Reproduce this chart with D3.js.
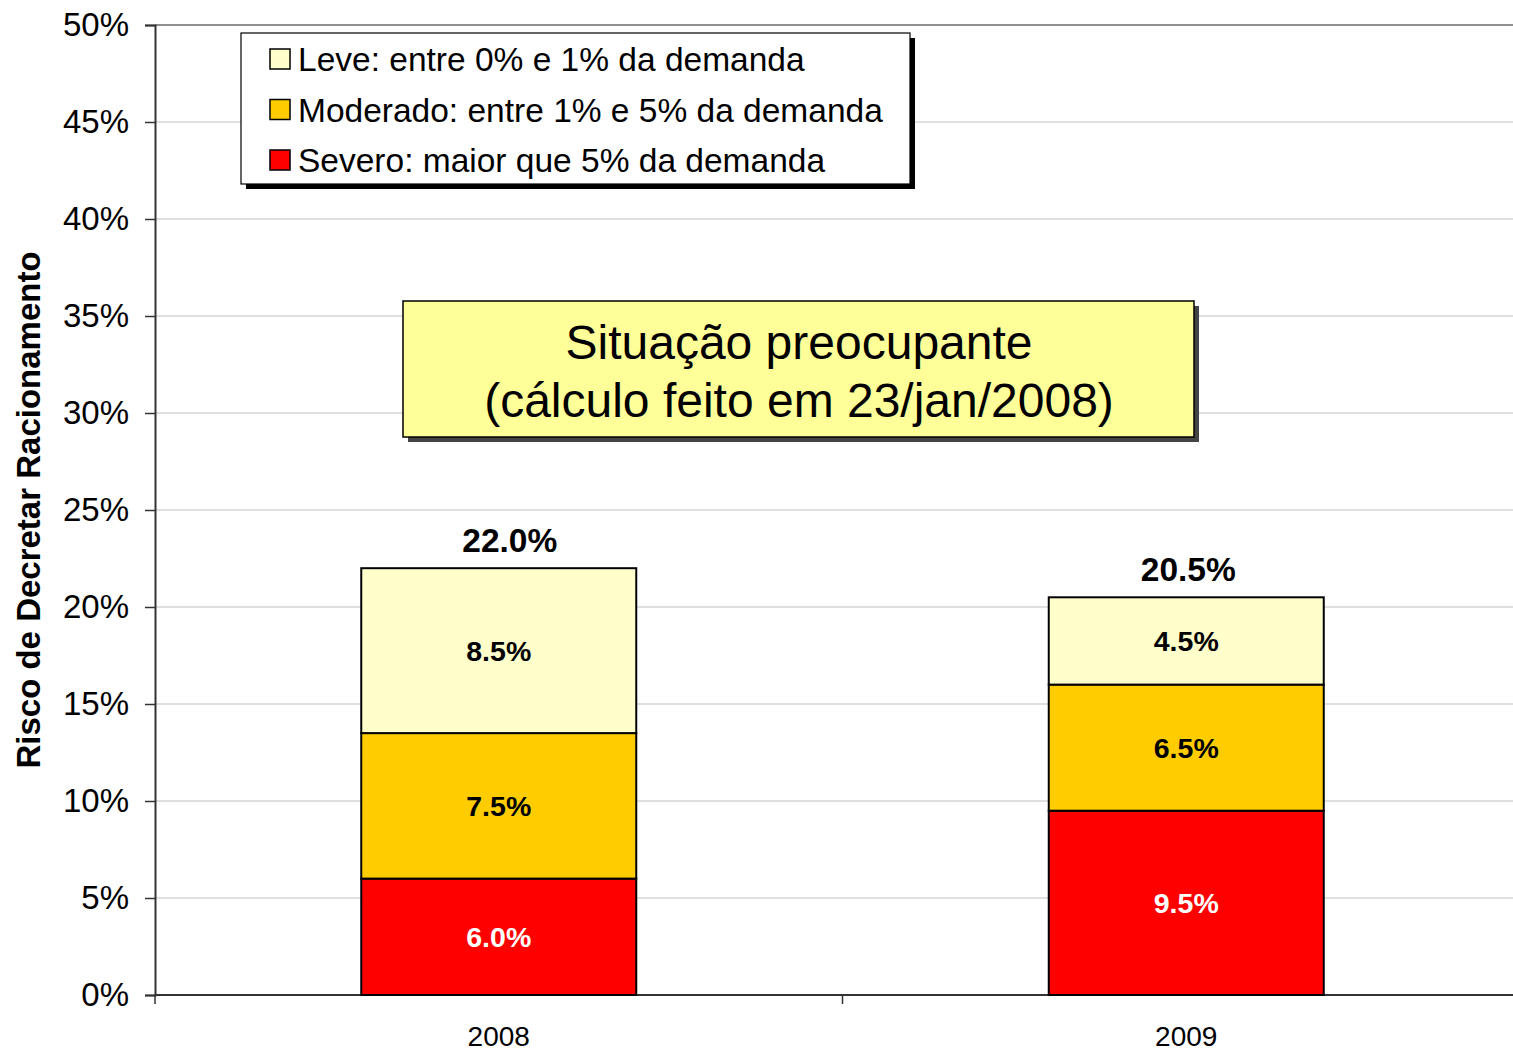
<!DOCTYPE html>
<html>
<head>
<meta charset="utf-8">
<script src="https://cdn.jsdelivr.net/npm/d3@7"></script>
<style>
  body { margin: 0; background: #fff; }
  text { font-family: "Liberation Sans", Arial, sans-serif; }
</style>
</head>
<body>
<div id="wrapper"></div>
<script>
const years = ["2008", "2009"]
const severo = [6.0, 9.5]
const moderado = [7.5, 6.5]
const leve = [8.5, 4.5]
const totals = [22.0, 20.5]
const seriesNames = [
  "Leve: entre 0% e 1% da demanda",
  "Moderado: entre 1% e 5% da demanda",
  "Severo: maior que 5% da demanda"
]
const yTicks = [0, 5, 10, 15, 20, 25, 30, 35, 40, 45, 50]

const colors = { severo: "#ff0000", moderado: "#ffcc00", leve: "#ffffcc" }

let dimensions = {
  width: 1513,
  height: 1050,
  margin: { top: 25, right: -17, bottom: 55, left: 155 }
}
dimensions.boundedWidth = dimensions.width - dimensions.margin.left - dimensions.margin.right
dimensions.boundedHeight = dimensions.height - dimensions.margin.top - dimensions.margin.bottom

const wrapper = d3.select("#wrapper")
  .append("svg")
  .attr("width", dimensions.width)
  .attr("height", dimensions.height)

const bounds = wrapper.append("g")
  .attr("transform", `translate(${dimensions.margin.left},${dimensions.margin.top})`)

const xScale = d3.scaleBand()
  .domain(years)
  .range([0, dimensions.boundedWidth])
  .paddingInner(0.6)
  .paddingOuter(0.3)

const yScale = d3.scaleLinear()
  .domain([0, 50])
  .range([dimensions.boundedHeight, 0])

// grid
bounds.append("g")
  .selectAll("line")
  .data(yTicks.slice(1))
  .join("line")
  .attr("x1", 0)
  .attr("x2", dimensions.boundedWidth)
  .attr("y1", d => yScale(d))
  .attr("y2", d => yScale(d))
  .attr("stroke", d => d === 50 ? "#909090" : "#d4d4d4")
  .attr("stroke-width", d => d === 50 ? 2 : 1.3)

// y axis
const yAxis = bounds.append("g")
  .call(d3.axisLeft(yScale).tickValues(yTicks).tickSize(10).tickPadding(16).tickFormat(d => d + "%"))
yAxis.select(".domain").attr("stroke", "#333").attr("stroke-width", 2)
yAxis.selectAll(".tick line").attr("stroke", "#333").attr("stroke-width", 1.5)
yAxis.selectAll(".tick text")
  .attr("font-size", 33)
  .attr("fill", "#000")
  .attr("font-family", "Liberation Sans, Arial, sans-serif")

// x axis
const xAxisG = bounds.append("g")
  .attr("transform", `translate(0,${dimensions.boundedHeight})`)
xAxisG.append("line")
  .attr("x1", 0).attr("x2", dimensions.boundedWidth)
  .attr("stroke", "#333").attr("stroke-width", 2)
xAxisG.selectAll(".sep")
  .data([0, dimensions.boundedWidth / 2])
  .join("line")
  .attr("x1", d => d).attr("x2", d => d)
  .attr("y1", 0).attr("y2", 9)
  .attr("stroke", "#333").attr("stroke-width", 1.5)
xAxisG.selectAll(".cat")
  .data(years)
  .join("text")
  .attr("x", d => xScale(d) + xScale.bandwidth() / 2)
  .attr("y", 51)
  .attr("text-anchor", "middle")
  .attr("font-size", 28)
  .text(d => d)

// stacked bars
const stackData = years.map((y, i) => ({ year: y, severo: severo[i], moderado: moderado[i], leve: leve[i] }))
const stack = d3.stack().keys(["severo", "moderado", "leve"])(stackData)

const layers = bounds.selectAll(".layer")
  .data(stack)
  .join("g")
  .attr("fill", d => colors[d.key])

layers.selectAll("rect")
  .data(d => d.map(v => Object.assign(v, { key: d.key })))
  .join("rect")
  .attr("x", d => xScale(d.data.year))
  .attr("width", xScale.bandwidth())
  .attr("y", d => yScale(d[1]))
  .attr("height", d => yScale(d[0]) - yScale(d[1]))
  .attr("stroke", "#000")
  .attr("stroke-width", 2)

layers.selectAll(".seg-label")
  .data(d => d)
  .join("text")
  .attr("x", d => xScale(d.data.year) + xScale.bandwidth() / 2)
  .attr("y", d => yScale((d[0] + d[1]) / 2) + 10)
  .attr("text-anchor", "middle")
  .attr("font-size", 28.5)
  .attr("font-weight", "bold")
  .attr("fill", d => d.key === "severo" ? "#fff" : "#000")
  .text(d => (d[1] - d[0]).toFixed(1) + "%")

bounds.selectAll(".total")
  .data(totals)
  .join("text")
  .attr("x", (d, i) => xScale(years[i]) + xScale.bandwidth() / 2 + (i === 0 ? 11 : 2))
  .attr("y", (d, i) => yScale(d) - 16)
  .attr("text-anchor", "middle")
  .attr("font-size", 33.5)
  .attr("font-weight", "bold")
  .text(d => d.toFixed(1) + "%")

// y axis title
wrapper.append("text")
  .attr("transform", "translate(40,510) rotate(-90)")
  .attr("text-anchor", "middle")
  .attr("font-size", 33)
  .attr("font-weight", "bold")
  .text("Risco de Decretar Racionamento")

// legend
const legend = wrapper.append("g").attr("transform", "translate(241,33)")
legend.append("rect").attr("x", 5).attr("y", 5).attr("width", 669).attr("height", 151).attr("fill", "#000")
legend.append("rect").attr("width", 669).attr("height", 151).attr("fill", "#fff").attr("stroke", "#000").attr("stroke-width", 1.2)
const legendColors = [colors.leve, colors.moderado, colors.severo]
const items = legend.selectAll(".item")
  .data(seriesNames)
  .join("g")
  .attr("transform", (d, i) => `translate(29,${26 + i * 50.5})`)
items.append("rect")
  .attr("x", 0).attr("y", -10).attr("width", 20).attr("height", 20)
  .attr("fill", (d, i) => legendColors[i])
  .attr("stroke", "#000").attr("stroke-width", 1.5)
items.append("text")
  .attr("x", 28).attr("y", 12)
  .attr("font-size", 33.5)
  .text(d => d)

// annotation box
const note = wrapper.append("g").attr("transform", "translate(403,301)")
note.append("rect").attr("x", 5).attr("y", 5).attr("width", 791).attr("height", 136).attr("fill", "#444")
note.append("rect").attr("width", 791).attr("height", 136).attr("fill", "#ffff99").attr("stroke", "#000").attr("stroke-width", 1.5)
note.selectAll("text")
  .data(["Situação preocupante", "(cálculo feito em 23/jan/2008)"])
  .join("text")
  .attr("x", 396)
  .attr("y", (d, i) => 58 + i * 58)
  .attr("text-anchor", "middle")
  .attr("font-size", 48)
  .text(d => d)
</script>
</body>
</html>
